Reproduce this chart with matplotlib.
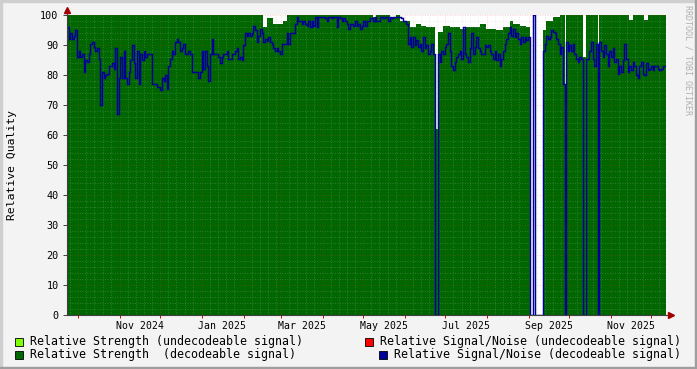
import numpy as np
import pandas as pd
import matplotlib
matplotlib.use("Agg")
import matplotlib.pyplot as plt
import matplotlib.dates as mdates
from matplotlib.patches import Rectangle

plt.rcParams['font.family'] = ['DejaVu Sans Mono']

# sampling: one consolidated sample every 29.7 h
t0 = pd.Timestamp("2024-09-22 14:00")
step = pd.Timedelta(hours=29.7)

# Relative Signal/Noise (decodeable signal)
snr = [
    96, 92, 94, 92, 93, 95, 86, 88, 86, 87, 81, 85, 84.5, 87, 90.5, 91, 89.5, 88, 89, 85.5,
    70, 81, 79, 80, 80.5, 83, 83, 84, 82, 89, 67, 79, 86, 79, 88, 79, 77, 81, 85, 90,
    84, 79, 88, 77, 87, 85, 88, 86, 87, 87, 87, 77, 77, 77, 76, 76, 75, 79, 78, 80,
    75.5, 83, 85.5, 88, 87, 91, 92, 91, 88, 89, 90.5, 87, 87, 88, 87, 81, 81, 81, 81, 79,
    81, 88, 82, 88, 83, 78, 87, 92, 87, 87, 87, 86, 84, 86, 87, 87, 88, 85.5, 85.5, 87,
    87, 88, 89, 85.5, 86, 85, 90, 94, 93, 94, 93, 94, 96.5, 95, 91, 93, 95.5, 94, 91, 92,
    91.5, 92.8, 91, 90.5, 89, 88, 89, 88, 87, 90.5, 90.5, 90.5, 94, 90.5, 94, 94, 94, 97, 99.5, 98,
    98, 97, 98, 97, 96.5, 98, 96, 98, 96.5, 99.5, 96, 99.5, 99.5, 99.5, 99.5, 99, 98, 99.5, 99.5, 99,
    99.5, 99.5, 96, 99.5, 99, 98, 99, 98, 97, 95.5, 97, 97, 96.5, 98, 96.5, 97, 95.5, 96.5, 98, 96.5,
    98, 98, 99, 99, 98, 99.5, 98, 98, 99.5, 99.5, 99, 99.5, 99.5, 98, 99.5, 99, 99.5, 99.5, 99.5, 99.5,
    99.5, 99, 98, 98, 97, 90.5, 92.8, 89.5, 92.8, 90, 91.7, 89.5, 90.5, 88, 92.8, 89, 90, 87, 88, 90.5,
    87, 0, 0, 87, 84.5, 88, 87, 89.5, 90.5, 94, 88, 83, 81.7, 84.5, 86, 87, 88, 85.5, 96, 87,
    86, 84.5, 89, 94, 87, 89.5, 92.8, 89, 88, 87, 87, 90, 89.5, 90, 88, 87, 85.5, 88, 85, 87,
    83, 85.5, 88, 90.5, 92, 94, 96, 93, 95.5, 92.8, 94, 92, 90.5, 92.8, 91, 92.8, 91.7, 92.8, 0, 0,
    100, 0, 0, 0, 0, 0, 88, 90.5, 93, 92, 92.8, 95, 94.5, 94, 92, 90.5, 87, 89.5, 77, 0,
    91, 88, 90, 88, 90.5, 87, 85.5, 84.5, 86, 85.5, 0, 0, 85.5, 85.5, 88, 91, 85.5, 83, 90.5, 0,
    91, 88, 86, 90, 87, 83, 88, 86, 89, 84.5, 85.5, 80.5, 83, 81, 85, 90.5, 85.5, 81, 83, 81.7,
    84.5, 83, 80, 79, 83, 84.5, 80.5, 80, 84, 81.7, 82, 83, 81.7, 83, 83, 82, 81.7, 82, 83, 83,
]

# Relative Strength (decodeable signal), as runs: number of samples, value
strength_len = [118, 2, 4, 6, 2, 52, 2, 8, 4, 2, 6, 4, 3, 3, 5, 2, 3, 4, 6, 4, 8,
                4, 6, 4, 4, 2, 4, 4, 2, 8, 2, 4, 4, 3, 1, 10, 2, 7, 1, 18, 2, 7, 2, 11]
strength_val = [100, 96, 99, 97, 98, 100, 99.5, 100, 99.5, 100, 98, 96, 97, 96.5, 96, 62, 94.5, 96.5, 96, 95.5, 96,
                97, 95.5, 95, 96, 98, 97, 96.5, 96, 0, 95, 98, 99.5, 100, 61, 100, 86, 100, 83, 100, 98.5, 100, 98.5, 100]

legend_labels = ["Relative Strength (undecodeable signal)",
                 "Relative Strength  (decodeable signal)",
                 "Relative Signal/Noise (undecodeable signal)",
                 "Relative Signal/Noise (decodeable signal)"]
legend_colors = ["#80ff00", "#006600", "#ff0000", "#000099"]

strength = np.repeat(strength_val, strength_len)
edges = mdates.date2num(pd.date_range(t0, periods=len(snr) + 1, freq=step))

W, H = 697, 369
fig = plt.figure(figsize=(W / 100, H / 100), dpi=100, facecolor="#f3f3f3")
ax = fig.add_axes([67 / W, 1 - 315 / H, (666 - 67) / W, 300 / H])
ax.set_facecolor("white")

ax.stairs(strength, edges, fill=True, color="#006600", lw=0, zorder=2)

# grid
dots = (0, (1, 2))
gcol, gal = "#c0c0c0", 0.35
rcol, ral = "#ff3030", 0.3
for v in range(2, 100, 2):
    if v % 10:
        ax.axhline(v, color=gcol, alpha=gal, lw=0.6, ls=dots, zorder=3)
for v in range(10, 101, 10):
    ax.axhline(v, color=rcol, alpha=ral, lw=0.6, ls=dots, zorder=3)
months = pd.date_range("2024-09-01", "2025-12-01", freq="MS")
for m in months:
    for d in (6, 12, 18, 24):
        ax.axvline(mdates.date2num(m + pd.Timedelta(days=d)), color=gcol, alpha=gal,
                   lw=0.6, ls=dots, zorder=3)
    ax.axvline(mdates.date2num(m), color=rcol, alpha=ral, lw=0.6, ls=dots, zorder=3)

ax.stairs(snr, edges, baseline=None, color="#000099", lw=1.05, zorder=4)

ax.set_xlim(edges[0], edges[-1])
ax.set_ylim(0, 100)

for s in ("top", "right"):
    ax.spines[s].set_visible(False)
for s in ("left", "bottom"):
    ax.spines[s].set_color("#404040")
    ax.spines[s].set_linewidth(0.8)
    ax.spines[s].set_zorder(5)

ax.set_yticks(range(0, 101, 10))
ax.tick_params(axis="y", length=3, width=0.7, color="#404040", pad=3,
               labelsize=7.3, labelcolor="#000000")

ax.xaxis.set_major_locator(mdates.MonthLocator())
ax.xaxis.set_major_formatter(plt.NullFormatter())
ax.xaxis.set_minor_locator(mdates.MonthLocator(bymonth=[1, 3, 5, 7, 9, 11], bymonthday=16))
ax.xaxis.set_minor_formatter(mdates.DateFormatter("%b %Y"))
ax.tick_params(axis="x", which="major", length=2.5, width=0.7, color="#cc0000")
ax.tick_params(axis="x", which="minor", length=0, pad=4, labelsize=7.1)

# axis arrows
ax.plot([1, 1.012], [0, 0], color="#404040", lw=0.8, transform=ax.transAxes, clip_on=False, zorder=5)
ax.plot([0, 0], [1, 1.02], color="#404040", lw=0.8, transform=ax.transAxes, clip_on=False, zorder=5)
ax.plot([1.008], [0], marker=">", ms=4, color="#a00000", transform=ax.transAxes, clip_on=False, zorder=6)
ax.plot([0], [1.017], marker="^", ms=4, color="#a00000", transform=ax.transAxes, clip_on=False, zorder=6)

fig.text(12 / W, 1 - 165 / H, "Relative Quality", rotation=90, ha="center", va="center", fontsize=8.2)
fig.text(688 / W, 1 - 5 / H, "RRDTOOL / TOBI OETIKER", rotation=270, ha="center", va="top",
         fontsize=6, color="#b0b0b0")

# legend
box = 8
spots = [(15, 341.5, 30), (15, 354.5, 30), (365, 341.5, 380), (379, 354.5, 394)]
for (bx, cy, tx), lab, col in zip(spots, legend_labels, legend_colors):
    fig.patches.append(Rectangle((bx / W, 1 - (cy + box / 2) / H), box / W, box / H,
                                 transform=fig.transFigure, facecolor=col,
                                 edgecolor="#000000", lw=0.6))
    fig.text(tx / W, 1 - cy / H, lab, ha="left", va="center", fontsize=8.36)

# 3d frame
fig.patches.append(Rectangle((0, 1 - 2 / H), 1, 2 / H, transform=fig.transFigure, color="#cfcfcf"))
fig.patches.append(Rectangle((0, 0), 2 / W, 1, transform=fig.transFigure, color="#cfcfcf"))
fig.patches.append(Rectangle((0, 0), 1, 2 / H, transform=fig.transFigure, color="#9e9e9e"))
fig.patches.append(Rectangle((1 - 2 / W, 0), 2 / W, 1, transform=fig.transFigure, color="#9e9e9e"))

fig.savefig("out.png", dpi=100, facecolor=fig.get_facecolor())
